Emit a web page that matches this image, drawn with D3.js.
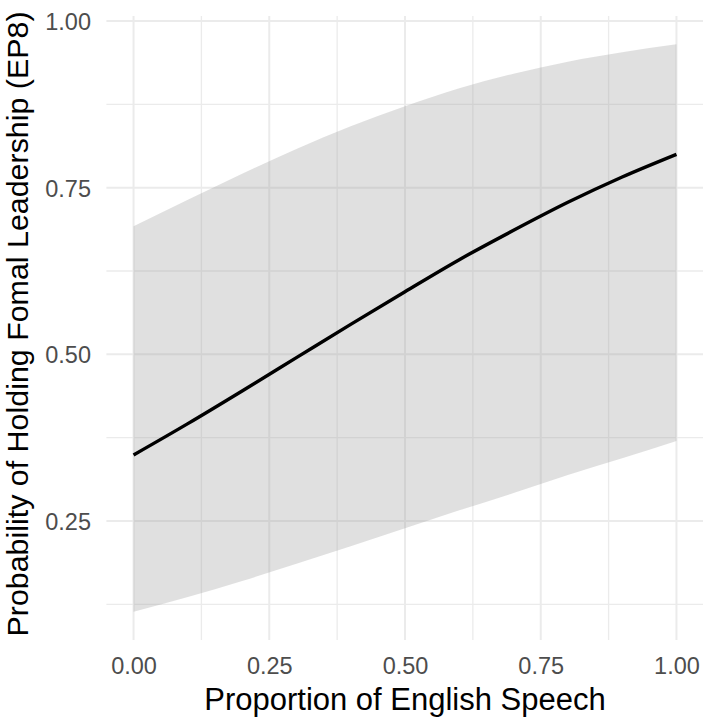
<!DOCTYPE html>
<html>
<head>
<meta charset="utf-8">
<script src="https://cdn.jsdelivr.net/npm/d3@7"></script>
<style>
  html, body { margin: 0; padding: 0; background: #ffffff; }
  svg { display: block; }
</style>
</head>
<body>
<svg id="chart" width="703" height="719"></svg>
<script>
// ---- data ----
const xValues     = [0.0, 0.1, 0.2, 0.3, 0.4, 0.5, 0.6, 0.7, 0.8, 0.9, 1.0];
const fitValues   = [0.349, 0.396, 0.445, 0.495, 0.545, 0.594, 0.642, 0.686, 0.728, 0.766, 0.800];
const upperValues = [0.692, 0.732, 0.771, 0.808, 0.842, 0.872, 0.899, 0.921, 0.939, 0.953, 0.965];
const lowerValues = [0.114, 0.136, 0.160, 0.186, 0.212, 0.239, 0.266, 0.292, 0.319, 0.344, 0.370];
const xTicks = [0, 0.25, 0.5, 0.75, 1.0];
const xTickLabels = ["0.00", "0.25", "0.50", "0.75", "1.00"];
const yTicks = [0.25, 0.5, 0.75, 1.0];
const yTickLabels = ["0.25", "0.50", "0.75", "1.00"];
const xMinor = [0.125, 0.375, 0.625, 0.875];
const yMinor = [0.125, 0.375, 0.625, 0.875];
const xTitle = "Proportion of English Speech";
const yTitle = "Probability of Holding Fomal Leadership (EP8)";

const rows = xValues.map((x, i) => ({ x, fit: fitValues[i], lo: lowerValues[i], hi: upperValues[i] }));

// ---- layout ----
const panel = { left: 106.4, right: 703.6, top: 16, bottom: 640 };
const font = "'Liberation Sans', Arial, Helvetica, sans-serif";

function expand(ext, f) { const d = ext[1] - ext[0]; return [ext[0] - d * f, ext[1] + d * f]; }

const xExt = d3.extent(xValues);
const yExt = [d3.min(lowerValues), d3.max(upperValues)];

const x = d3.scaleLinear().domain(expand(xExt, 0.05)).range([panel.left, panel.right]);
const y = d3.scaleLinear().domain(expand(yExt, 0.05)).range([panel.bottom, panel.top]);

const svg = d3.select("#chart");

// grid
const grid = svg.append("g").attr("stroke", "#ebebeb").attr("fill", "none");
grid.selectAll(".xmin").data(xMinor).join("line")
  .attr("x1", d => x(d)).attr("x2", d => x(d))
  .attr("y1", panel.top).attr("y2", panel.bottom).attr("stroke-width", 1.3);
grid.selectAll(".ymin").data(yMinor).join("line")
  .attr("y1", d => y(d)).attr("y2", d => y(d))
  .attr("x1", panel.left).attr("x2", panel.right).attr("stroke-width", 1.3);
grid.selectAll(".xmaj").data(xTicks).join("line")
  .attr("x1", d => x(d)).attr("x2", d => x(d))
  .attr("y1", panel.top).attr("y2", panel.bottom).attr("stroke-width", 2);
grid.selectAll(".ymaj").data(yTicks).join("line")
  .attr("y1", d => y(d)).attr("y2", d => y(d))
  .attr("x1", panel.left).attr("x2", panel.right).attr("stroke-width", 2);

// ribbon
const area = d3.area()
  .x(d => x(d.x)).y0(d => y(d.lo)).y1(d => y(d.hi))
  .curve(d3.curveMonotoneX);
svg.append("path").datum(rows)
  .attr("d", area)
  .attr("fill", "#999999").attr("fill-opacity", 0.3);

// fit line
const line = d3.line().x(d => x(d.x)).y(d => y(d.fit)).curve(d3.curveMonotoneX);
svg.append("path").datum(rows)
  .attr("d", line)
  .attr("fill", "none").attr("stroke", "#000000").attr("stroke-width", 3.4)
  .attr("stroke-linecap", "butt");

// axes (ggplot-minimal style: labels only)
const xAxis = d3.axisBottom(x).tickValues(xTicks).tickFormat((d, i) => xTickLabels[i]).tickSize(0).tickPadding(0);
const gx = svg.append("g").attr("transform", `translate(0, 657)`).call(xAxis);
gx.select(".domain").remove();
gx.selectAll("text").attr("fill", "#4d4d4d").style("font-family", font).style("font-size", "23.5px")
  .attr("dy", "0.71em").attr("y", 0);

const yAxis = d3.axisLeft(y).tickValues(yTicks).tickFormat((d, i) => yTickLabels[i]).tickSize(0).tickPadding(0);
const gy = svg.append("g").attr("transform", `translate(91, 0)`).call(yAxis);
gy.select(".domain").remove();
gy.selectAll("text").attr("fill", "#4d4d4d").style("font-family", font).style("font-size", "23.5px")
  .attr("dy", "0.36em").attr("x", 0);

// titles
svg.append("text")
  .attr("x", (panel.left + panel.right) / 2).attr("y", 710)
  .attr("text-anchor", "middle")
  .style("font-family", font).style("font-size", "31px").attr("fill", "#000")
  .text(xTitle);

svg.append("text")
  .attr("transform", `translate(27.5, ${(panel.top + panel.bottom) / 2 - 4}) rotate(-90)`)
  .attr("text-anchor", "middle")
  .style("font-family", font).style("font-size", "30.4px").attr("fill", "#000")
  .text(yTitle);
</script>
</body>
</html>
